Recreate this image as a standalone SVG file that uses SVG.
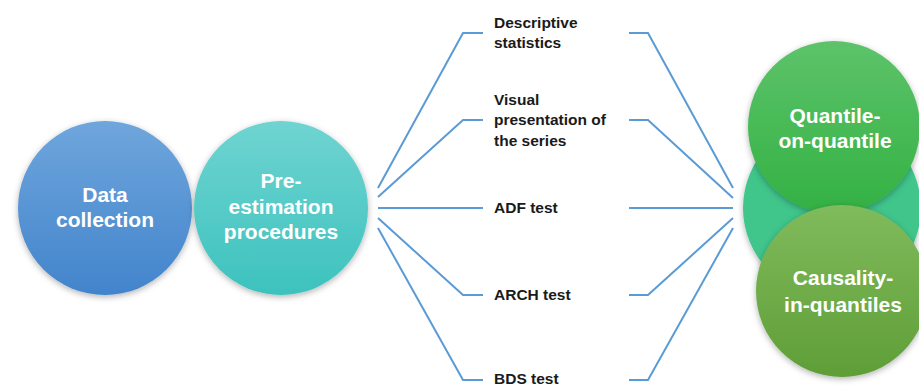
<svg xmlns="http://www.w3.org/2000/svg" width="919" height="387" viewBox="0 0 919 387">
<style>
.w{font-family:"Liberation Sans",Arial,sans-serif;font-weight:bold;font-size:21px;fill:#ffffff;text-anchor:middle}
.b{font-family:"Liberation Sans",Arial,sans-serif;font-weight:bold;font-size:15.5px;fill:#1a1a1a}
.c{fill:none;stroke:#5b9bd5;stroke-width:2}
</style>
<defs>
<linearGradient id="g1" x1="0" y1="0" x2="0" y2="1"><stop offset="0" stop-color="#6fa6dc"/><stop offset="1" stop-color="#4284cc"/></linearGradient>
<linearGradient id="g2" x1="0" y1="0" x2="0" y2="1"><stop offset="0" stop-color="#6fd4d1"/><stop offset="1" stop-color="#3dc2be"/></linearGradient>
<linearGradient id="g3" x1="0" y1="0" x2="0" y2="1"><stop offset="0" stop-color="#5dc36a"/><stop offset="1" stop-color="#33b143"/></linearGradient>
<linearGradient id="g4" x1="0" y1="0" x2="0" y2="1"><stop offset="0" stop-color="#80bb5c"/><stop offset="1" stop-color="#5f9e37"/></linearGradient>
<filter id="sh" x="-20%" y="-20%" width="140%" height="140%"><feDropShadow dx="0" dy="2" stdDeviation="3" flood-color="#000" flood-opacity="0.3"/></filter>
</defs>
<g id="data-collection"><circle cx="105" cy="208" r="87" fill="url(#g1)" filter="url(#sh)"/><text class="w" x="105" y="202">Data</text><text class="w" x="105" y="227">collection</text></g>
<g id="pre-estimation"><circle cx="281" cy="208" r="87" fill="url(#g2)" filter="url(#sh)"/><text class="w" x="281" y="188">Pre-</text><text class="w" x="281" y="214">estimation</text><text class="w" x="281" y="239">procedures</text></g>
<g id="connectors">
<polyline class="c" points="378,188 463,33 483,33"/>
<polyline class="c" points="378,197 463,120 483,120"/>
<polyline class="c" points="378,208 483,208"/>
<polyline class="c" points="378,218 463,295 483,295"/>
<polyline class="c" points="378,228 463,380 483,380"/>
<polyline class="c" points="629,33 648,33 733,188"/>
<polyline class="c" points="629,120 648,120 733,198"/>
<polyline class="c" points="629,208 733,208"/>
<polyline class="c" points="629,295 648,295 733,218"/>
<polyline class="c" points="629,380 648,380 733,228"/>
</g>
<g id="descriptive"><text class="b" x="494" y="28">Descriptive</text><text class="b" x="494" y="48">statistics</text></g>
<g id="visual"><text class="b" x="494" y="105">Visual</text><text class="b" x="494" y="125">presentation of</text><text class="b" x="494" y="146">the series</text></g>
<g id="adf"><text class="b" x="494" y="213">ADF test</text></g>
<g id="arch"><text class="b" x="494" y="300">ARCH test</text></g>
<g id="bds"><text class="b" x="494" y="384">BDS test</text></g>
<g id="back-circle"><circle cx="832" cy="208" r="89" fill="#41c58b" filter="url(#sh)"/></g>
<g id="quantile-on-quantile"><circle cx="834" cy="127" r="86" fill="url(#g3)" filter="url(#sh)"/><text class="w" x="835" y="123">Quantile-</text><text class="w" x="835" y="148">on-quantile</text></g>
<g id="causality-in-quantiles"><circle cx="842" cy="291" r="86" fill="url(#g4)" filter="url(#sh)"/><text class="w" x="843" y="285">Causality-</text><text class="w" x="843" y="312">in-quantiles</text></g>
</svg>
